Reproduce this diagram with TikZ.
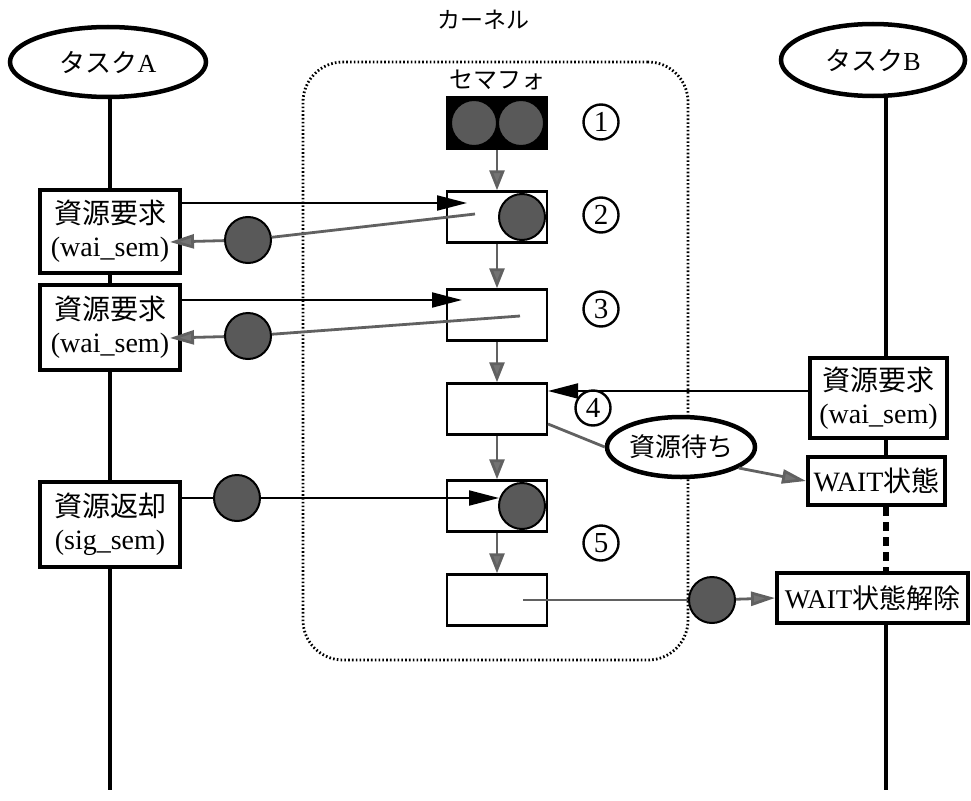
\documentclass[tikz,border=0pt]{standalone}
\usepackage{fontspec}
\setmainfont{Liberation Serif}
\newfontfamily\jp{Noto Sans CJK JP}
\usetikzlibrary{arrows.meta,shapes.geometric}
\begin{document}
\begin{tikzpicture}[x=1pt,y=-1pt,
  task/.style={ellipse, draw, line width=4.5pt, fill=white, inner sep=0pt, font=\jp\fontsize{26}{28}\selectfont},
  callbox/.style={draw, line width=4pt, fill=white, inner sep=0pt, align=center, font=\fontsize{28}{33}\selectfont},
  sembox/.style={draw, line width=2.5pt, fill=white, minimum width=100pt, minimum height=51pt, inner sep=0pt},
  token/.style={circle, draw, line width=2pt, fill=black!65, minimum size=46pt, inner sep=0pt},
  num/.style={circle, draw, line width=2.4pt, minimum size=35pt, inner sep=0pt, font=\fontsize{29}{29}\selectfont},
  kernelbox/.style={draw=black, line width=2.8pt, dash pattern=on 1.6pt off 2.2pt, rounded corners=40pt, inner sep=0pt},
  tl/.style={line width=4pt},
  tldash/.style={line width=6pt, dash pattern=on 9pt off 6pt},
  req/.style={line width=2pt, -{Triangle[length=30pt,width=15pt]}},
  glink/.style={line width=2.8pt, draw=black!62},
  garrow/.style={glink, -{Triangle[length=24pt,width=14pt,fill=black!55]}},
  vgarrow/.style={glink, -{Triangle[length=20pt,width=15pt,fill=black!55]}},
  lbl/.style={inner sep=0pt, font=\jp\fontsize{23}{26}\selectfont},
]
\useasboundingbox (0,0) rectangle (971,800);

% kernel region
\node[kernelbox, minimum width=385pt, minimum height=598pt] (kernel) at (495.5,361) {};
\node[lbl] (kernellbl) at (483,20) {カーネル};
\node[lbl, font=\jp\fontsize{24}{26}\selectfont] (semlbl) at (497,80) {セマフォ};

% tasks
\node[task, minimum width=196pt, minimum height=70pt] (taskA) at (108,62) {タスク\rmfamily A};
\node[task, minimum width=184pt, minimum height=72pt] (taskB) at (873,60) {タスク\rmfamily B};
\coordinate (ax) at (110,0);
\coordinate (bx) at (886,0);
\coordinate (aEnd) at (110,790);
\coordinate (bEnd) at (886,790);

% call boxes task A
\node[callbox, minimum width=140pt, minimum height=83pt] (A1) at (110,231.5) {{\jp 資源要求}\\(wai\_sem)};
\node[callbox, minimum width=140pt, minimum height=85pt] (A2) at (110,327.5) {{\jp 資源要求}\\(wai\_sem)};
\node[callbox, minimum width=140pt, minimum height=85pt] (A3) at (110,524.5) {{\jp 資源返却}\\(sig\_sem)};

% call boxes task B
\node[callbox, minimum width=137pt, minimum height=80pt] (B1) at (878.5,398) {{\jp 資源要求}\\(wai\_sem)};
\node[callbox, minimum width=137pt, minimum height=48pt, font=\fontsize{28}{30}\selectfont] (B2) at (876.5,481) {WAIT{\jp 状態}};
\node[callbox, minimum width=191pt, minimum height=50pt, font=\fontsize{27}{30}\selectfont] (B3) at (872.5,598) {WAIT{\jp 状態解除}};

% task lines
\draw[tl] (taskA.south -| ax) -- (A1.north -| ax);
\draw[tl] (A1.south -| ax) -- (A2.north -| ax);
\draw[tl] (A2.south -| ax) -- (A3.north -| ax);
\draw[tl] (A3.south -| ax) -- (aEnd);
\draw[tl] (taskB.south -| bx) -- (B1.north -| bx);
\draw[tl] (B1.south -| bx) -- (B2.north -| bx);
\draw[tldash] (B2.south -| bx) -- (B3.north -| bx);
\draw[tl] (B3.south -| bx) -- (bEnd);

% semaphore boxes
\node[sembox, fill=black] (s1) at (497,123) {};
\node[token] (s1a) at (474,123) {};
\node[token] (s1b) at (521,123) {};
\node[sembox] (s2) at (497,217) {};
\node[token] (s2tok) at (522,217) {};
\node[sembox] (s3) at (497,315) {};
\node[sembox] (s4) at (497,409) {};
\node[sembox] (s5) at (497,506) {};
\node[token] (s5tok) at (522,506) {};
\node[sembox] (s6) at (497,600) {};

% step numbers
\node[num] (n1) at (601,122) {1};
\node[num] (n2) at (601,215) {2};
\node[num] (n3) at (601,309) {3};
\node[num] (n4) at (593,408) {4};
\node[num] (n5) at (601,543) {5};

% vertical state flow
\draw[vgarrow] (s1.south) -- (s2.north);
\draw[vgarrow] (s2.south) -- (s3.north);
\draw[vgarrow] (s3.south) -- (s4.north);
\draw[vgarrow] (s4.south) -- (s5.north);
\draw[vgarrow] (s5.south) -- (s6.north);

% tokens on connectors
\node[token] (t2) at (248,240) {};
\node[token] (t3) at (248,336) {};
\node[token] (t5) at (237,498) {};
\node[token] (t6) at (712,600) {};

% resource wait ellipse
\node[task, minimum width=148pt, minimum height=60pt, font=\jp\fontsize{26}{28}\selectfont] (wait) at (681,447) {資源待ち};

% coordinates for connector ends
\coordinate (p2) at (467,203);
\coordinate (g2) at (475,214);
\coordinate (r2) at (170,242);
\coordinate (p3) at (462,300);
\coordinate (g3) at (520,316);
\coordinate (r3) at (170,338);
\coordinate (p4) at (548,391);
\coordinate (g4) at (548,424);
\coordinate (p5) at (499,498);
\coordinate (g6) at (523,600);

% task A requests
\draw[req] (A1.east |- p2) -- (p2);
\draw[glink] (g2) -- (t2);
\draw[garrow] (t2) -- (r2);
\draw[req] (A2.east |- p3) -- (p3);
\draw[glink] (g3) -- (t3);
\draw[garrow] (t3) -- (r3);

% task B request and wait
\draw[req] (B1.west |- p4) -- (p4);
\draw[glink] (g4) -- (wait.west);
\draw[garrow] (wait.-20) -- (B2.west);

% release
\draw[line width=2pt] (A3.east |- t5) -- (t5);
\draw[req] (t5) -- (p5);
\draw[glink] (g6) -- (t6);
\draw[garrow] (t6) -- (B3.west);
\end{tikzpicture}
\end{document}
